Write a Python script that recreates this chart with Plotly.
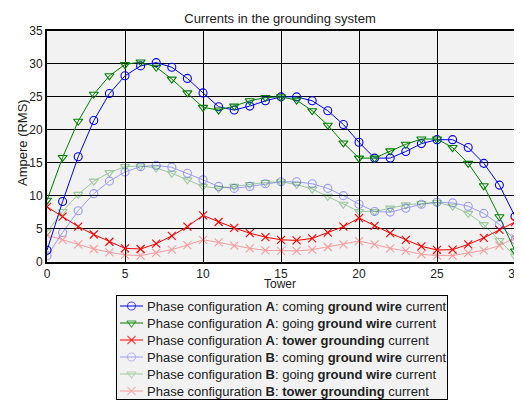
import plotly.graph_objects as go

towers = list(range(31))

coming_A = [1.7, 9.1, 15.9, 21.4, 25.5, 28.2, 29.7, 30.2, 29.5, 27.8, 25.6, 23.5, 23.0, 23.6, 24.4,
            25.0, 25.0, 24.4, 22.9, 20.8, 18.1, 15.7, 15.7, 16.7, 17.9, 18.5, 18.5, 17.3, 14.9, 11.6, 6.85]
going_A = [9.3, 15.8, 21.3, 25.4, 28.2, 29.9, 30.3, 29.5, 27.7, 25.6, 23.4, 23.0, 23.6, 24.4, 24.9,
           25.0, 24.5, 22.9, 20.7, 18.0, 15.7, 15.7, 16.8, 17.8, 18.6, 18.6, 17.3, 14.9, 11.5, 6.8, 1.6]
tower_A = [8.3, 6.8, 5.3, 4.1, 3.0, 2.0, 1.9, 2.7, 3.9, 5.3, 7.0, 6.0, 5.1, 4.3, 3.7,
           3.3, 3.2, 3.5, 4.4, 5.3, 6.6, 5.4, 4.3, 3.3, 2.3, 1.75, 1.8, 2.6, 3.6, 4.8, 6.0]
coming_B = [0.85, 4.4, 7.7, 10.3, 12.2, 13.6, 14.4, 14.6, 14.3, 13.4, 12.4, 11.4, 11.1, 11.4, 11.8,
            12.1, 12.1, 11.8, 11.1, 10.0, 8.7, 7.6, 7.5, 8.1, 8.7, 9.0, 8.9, 8.4, 7.3, 5.6, 3.3]
going_B = [4.5, 7.6, 10.2, 12.2, 13.5, 14.4, 14.5, 14.2, 13.4, 12.4, 11.4, 11.1, 11.4, 11.7, 12.0,
           12.1, 11.7, 11.0, 9.9, 8.7, 7.6, 7.6, 8.1, 8.6, 8.8, 8.95, 8.4, 7.3, 5.6, 3.2, 0.8]
tower_B = [4.0, 3.3, 2.6, 1.9, 1.4, 1.0, 0.9, 1.3, 1.8, 2.5, 3.3, 2.9, 2.4, 2.0, 1.7,
           1.6, 1.6, 1.8, 2.2, 2.6, 3.1, 2.6, 2.0, 1.6, 1.1, 0.9, 0.9, 1.3, 1.7, 2.4, 3.6]

x_ticks = [0, 5, 10, 15, 20, 25, 30]
y_ticks = [0, 5, 10, 15, 20, 25, 30, 35]

names = [
    "Phase configuration <b>A</b>: coming <b>ground wire</b> current",
    "Phase configuration <b>A</b>: going <b>ground wire</b> current",
    "Phase configuration <b>A</b>: <b>tower grounding</b> current",
    "Phase configuration <b>B</b>: coming <b>ground wire</b> current",
    "Phase configuration <b>B</b>: going <b>ground wire</b> current",
    "Phase configuration <b>B</b>: <b>tower grounding</b> current",
]
series = [coming_A, going_A, tower_A, coming_B, going_B, tower_B]
colors = ["#0000ff", "#008000", "#ff0000", "#0000ff", "#008000", "#ff0000"]
symbols = ["circle-open", "triangle-down-open", "x-thin-open",
           "circle-open", "triangle-down-open", "x-thin-open"]
opac = [1, 1, 1, 0.35, 0.35, 0.35]

# The page body has an 8px margin, so the figure sits at (8, 8) in the 522x400 window.
W, H = 514, 392
ML, MR, MT, MB = 39, 7, 23, 1
PW, PH = W - ML - MR, H - MT - MB


def px_x(fx):
    return (fx - ML) / PW


def px_y(fy):
    return (H - MB - fy) / PH


main_bottom = px_y(253.5)
leg_x0, leg_x1 = px_x(109), px_x(439)
leg_top = px_y(288)

fig = go.Figure()
for nm, ys, c, s, o in zip(names, series, colors, symbols, opac):
    fig.add_trace(go.Scatter(
        x=towers, y=ys, name=nm, mode="lines+markers",
        line=dict(color=c, width=1),
        marker=dict(symbol=s, size=8, color=c, line=dict(color=c, width=1.1)),
        opacity=o, showlegend=False, xaxis="x", yaxis="y",
    ))

# legend box drawn on its own small axes (pixel units, rows top to bottom)
LEG_W, LEG_H = 330, 103
row_y = [10 + 17 * i for i in range(len(names))]
for i, (nm, c, s, o) in enumerate(zip(names, colors, symbols, opac)):
    fig.add_trace(go.Scatter(
        x=[3, 14.5, 26], y=[row_y[i]] * 3, mode="lines+markers",
        line=dict(color=c, width=1),
        marker=dict(symbol=s, size=[0, 8, 0], color=c, line=dict(color=c, width=1.1)),
        opacity=o, showlegend=False, hoverinfo="skip", xaxis="x2", yaxis="y2",
    ))
    fig.add_annotation(x=28, y=row_y[i], xref="x2", yref="y2", text=nm,
                       showarrow=False, xanchor="left", yanchor="middle",
                       font=dict(size=13, color="#222"))

fig.update_layout(
    width=W, height=H,
    margin=dict(l=ML, r=MR, t=MT, b=MB, autoexpand=False),
    paper_bgcolor="white", plot_bgcolor="#f2f2f2",
    font=dict(family="Liberation Sans, Arial, sans-serif", size=12, color="#222"),
    title=dict(text="Currents in the grounding system", x=(280 - 8) / W, xanchor="center",
               xref="container", y=1 - 10 / H, yanchor="middle", yref="container",
               font=dict(size=13, color="#222")),
    showlegend=False,
    xaxis=dict(domain=[0, 1], anchor="y", range=[0, 30], tickvals=x_ticks,
               showgrid=True, gridcolor="black", gridwidth=1,
               showline=True, linecolor="black", linewidth=2, mirror=True,
               zeroline=False, ticks="", automargin=False, ticklabeloverflow="allow"),
    yaxis=dict(domain=[main_bottom, 1], anchor="x", range=[0, 35], tickvals=y_ticks,
               showgrid=True, gridcolor="black", gridwidth=1,
               showline=True, linecolor="black", linewidth=2, mirror=True,
               zeroline=False, ticks="", automargin=False),
    xaxis2=dict(domain=[leg_x0, leg_x1], anchor="y2", range=[0, LEG_W],
                showgrid=False, zeroline=False, showticklabels=False, ticks="",
                showline=True, linecolor="black", linewidth=1, mirror=True,
                automargin=False, fixedrange=True),
    yaxis2=dict(domain=[0, leg_top], anchor="x2", range=[LEG_H, 0],
                showgrid=False, zeroline=False, showticklabels=False, ticks="",
                showline=True, linecolor="black", linewidth=1, mirror=True,
                automargin=False, fixedrange=True),
)

fig.add_annotation(text="Tower", x=px_x(272), y=px_y(275.5), xref="paper", yref="paper",
                   showarrow=False, xanchor="center", yanchor="middle",
                   font=dict(size=12, color="#222"))
fig.add_annotation(text="Ampere (RMS)", x=px_x(14), y=px_y(135), xref="paper", yref="paper",
                   showarrow=False, xanchor="center", yanchor="middle", textangle=-90,
                   font=dict(size=13, color="#222"))

fig.write_html("out.html")
